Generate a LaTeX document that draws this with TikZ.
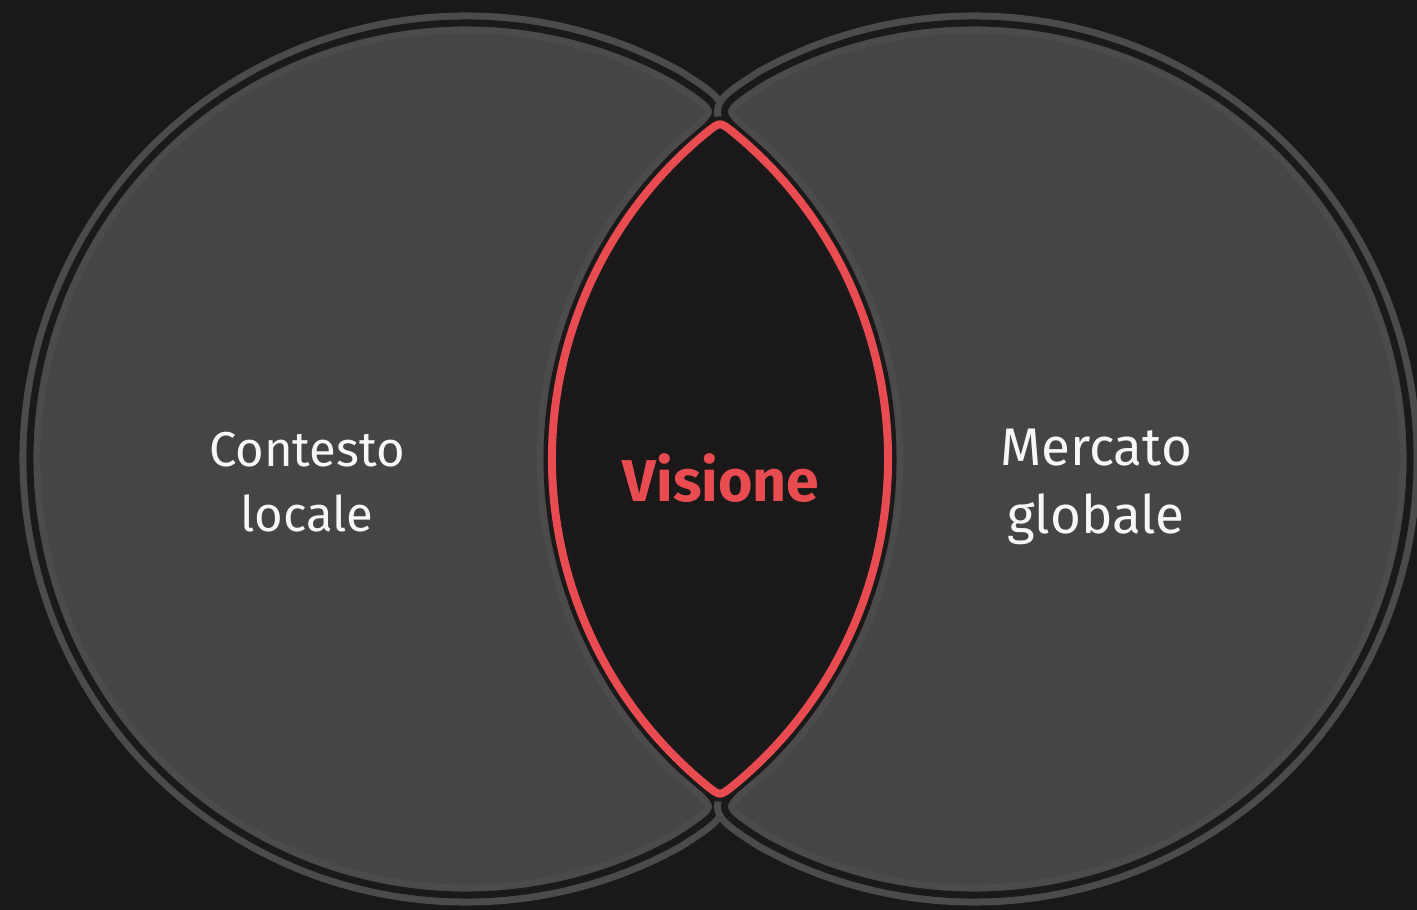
\documentclass[tikz,border=0pt]{standalone}
\usepackage{fontspec}
\setmainfont{Fira Sans}

\definecolor{bgdark}{HTML}{1A1818}
\definecolor{discgray}{HTML}{464444}
\definecolor{ringgray}{HTML}{4C4A4A}
\definecolor{edgedark}{HTML}{1B1919}
\definecolor{visred}{HTML}{E84C50}
\definecolor{textwhite}{HTML}{F7F7F7}

% one crescent: outer arc round (466,-459), inner arc round (974,-459)
\newcommand{\crescent}{%
\draw[crescent] (677.4,-77.7) arc[start angle=61, end angle=299, radius=436]
  .. controls (727.6,-807.8) .. (681.2,-769.8)
  arc[start angle=226.71, end angle=133.29, radius=427]
  .. controls (727.6,-110.2) .. (677.4,-77.7) -- cycle;}

\begin{document}
\begin{tikzpicture}[x=1pt,y=1pt,
	crescent/.style={fill=discgray, draw=ringgray, double=edgedark, line width=7pt, double distance=7pt, line join=round},
	lens/.style={fill=bgdark, draw=edgedark, double=visred, line width=4pt, double distance=8pt, line join=round},
	sidelabel/.style={text=textwhite, align=center}]
\useasboundingbox (0,0) rectangle (1417,-910);
\fill[bgdark] (0,0) rectangle (1417,-910);

	\begin{scope}
\crescent
	\end{scope}
	\begin{scope}[shift={(1440,0)}, xscale=-1]
\crescent
	\end{scope}

\draw[lens] (731.9,-786.7) arc[start angle=-50.95, end angle=50.95, radius=422]
  .. controls (720,-122) .. (708.1,-131.3)
  arc[start angle=129.05, end angle=230.95, radius=422]
  .. controls (720,-796) .. (731.9,-786.7) -- cycle;

\node[sidelabel, font=\fontsize{49}{65}\selectfont] (local) at (307,-482) {Contesto\\locale};
\node[sidelabel, font=\fontsize{53}{68}\selectfont] (global) at (1096,-487) {Mercato\\globale};
\node[text=visred, font=\fontsize{59}{70}\selectfont\bfseries, anchor=base] (vision) at (721,-501) {Visione};
\end{tikzpicture}
\end{document}
